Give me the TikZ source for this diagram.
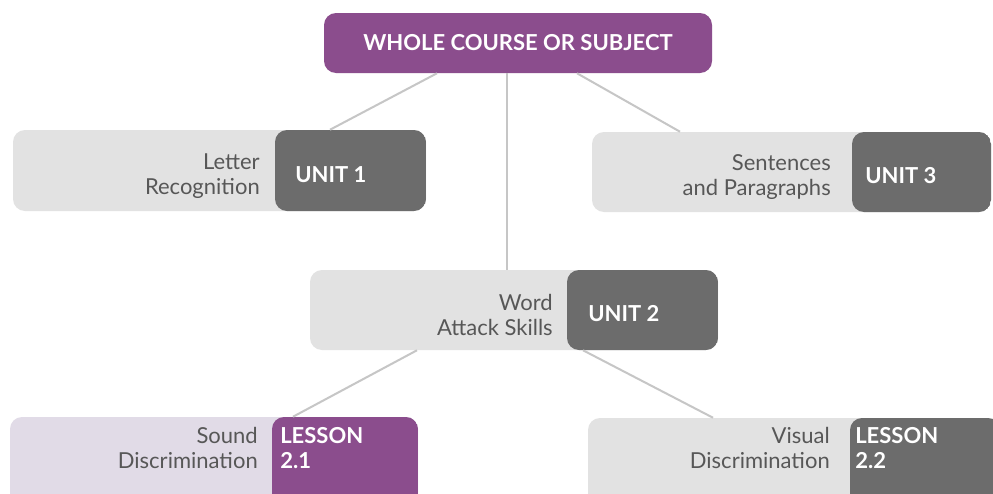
\documentclass[tikz,border=0pt]{standalone}
\usepackage{fontspec}
\setmainfont{Lato}
\definecolor{plum}{HTML}{8B4D8D}
\definecolor{boxgray}{HTML}{E2E2E2}
\definecolor{lavender}{HTML}{E1DBE7}
\definecolor{taggray}{HTML}{6C6C6C}
\definecolor{inkgray}{HTML}{575757}
\definecolor{linkgray}{HTML}{C6C6C6}
\tikzset{
  block/.style={rounded corners=9pt, inner sep=0pt, fill=#1},
  tagpart/.style 2 args={path picture={\fill[#1]
      ([xshift=#2*0.75pt]path picture bounding box.north west)
      rectangle (path picture bounding box.south east);}},
  labeltext/.style={inner sep=0pt, align=right, text=inkgray,
      font=\fontsize{16.5}{18.75}\selectfont},
  tagtext/.style={inner sep=0pt, align=left, text=white,
      font=\fontsize{16.5}{18.75}\selectfont\bfseries},
  conn/.style={draw=linkgray, line width=1.5pt}
}
\begin{document}
\begin{tikzpicture}[x=0.75pt,y=-0.75pt]
\clip (0,0) rectangle (993,493);
\fill[white] (0,0) rectangle (993,493);

% course box
\node[block=plum, minimum width=388*0.75pt, minimum height=60*0.75pt,
      text=white, font=\fontsize{16.5}{18.75}\selectfont\bfseries]
      (top) at (518,43) {WHOLE COURSE OR SUBJECT};

% unit boxes
\node[block=boxgray, tagpart={taggray}{262},
      minimum width=413*0.75pt, minimum height=81*0.75pt] (u1) at (219.5,170.5) {};
\node[block=boxgray, tagpart={taggray}{257},
      minimum width=408*0.75pt, minimum height=80*0.75pt] (u2) at (514,310) {};
\node[block=boxgray, tagpart={taggray}{260},
      minimum width=399*0.75pt, minimum height=80*0.75pt] (u3) at (791.5,172) {};

% lesson boxes
\node[block=lavender, tagpart={plum}{262},
      minimum width=408*0.75pt, minimum height=103*0.75pt] (l1) at (214,468.5) {};
\node[block=boxgray, tagpart={taggray}{262},
      minimum width=412*0.75pt, minimum height=102*0.75pt] (l2) at (794,469) {};

% texts
\node[labeltext, anchor=east] (u1t) at (260,176) {Letter\\Recognition};
\node[tagtext, anchor=west] (u1g) at (295,175) {UNIT 1};
\node[labeltext, anchor=east] (u2t) at (553,315) {Word\\Attack Skills};
\node[tagtext, anchor=west] (u2g) at (588,314) {UNIT 2};
\node[labeltext, anchor=east] (u3t) at (831,177) {Sentences\\and Paragraphs};
\node[tagtext, anchor=west] (u3g) at (865,176) {UNIT 3};
\node[labeltext, anchor=east] (l1t) at (258,448) {Sound\\Discrimination};
\node[tagtext, anchor=west] (l1g) at (280,448) {LESSON\\2.1};
\node[labeltext, anchor=east] (l2t) at (830,448) {Visual\\Discrimination};
\node[tagtext, anchor=west] (l2g) at (855,448) {LESSON\\2.2};

% connectors
\draw[conn] (top.south -| 437,0) -- (u1.north -| 330,0);
\draw[conn] (top.south -| 507,0) -- (u2.north -| 507,0);
\draw[conn] (top.south -| 577,0) -- (u3.north -| 680,0);
\draw[conn] (u2.south -| 417,0) -- (l1.north -| 293,0);
\draw[conn] (u2.south -| 583,0) -- (l2.north -| 713,0);
\end{tikzpicture}
\end{document}
